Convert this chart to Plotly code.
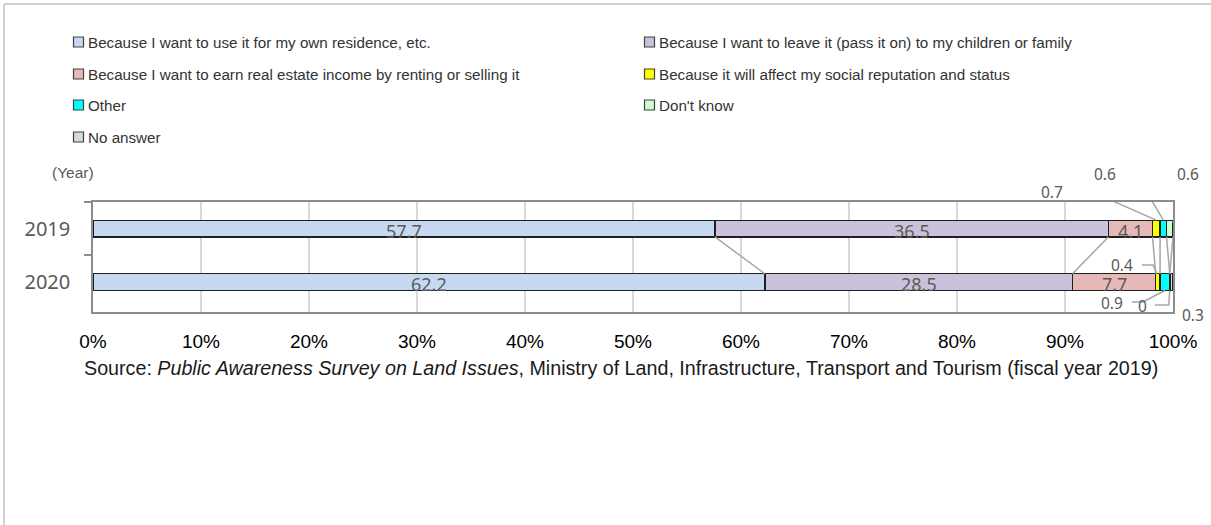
import numpy as np
import plotly.graph_objects as go

# ---- data -------------------------------------------------------------
years = ["2019", "2020"]
series_names = [
    "Because I want to use it for my own residence, etc.",
    "Because I want to leave it (pass it on) to my children or family",
    "Because I want to earn real estate income by renting or selling it",
    "Because it will affect my social reputation and status",
    "Other",
    "Don't know",
    "No answer",
]
values_2019 = [57.7, 36.5, 4.1, 0.7, 0.6, 0.6, 0.0]
values_2020 = [62.2, 28.5, 7.7, 0.4, 0.9, 0.0, 0.3]
x_tick_values = [0, 10, 20, 30, 40, 50, 60, 70, 80, 90, 100]
x_tick_labels = ["0%", "10%", "20%", "30%", "40%", "50%", "60%", "70%", "80%", "90%", "100%"]
source_text = ("Source: <i>Public Awareness Survey on Land Issues</i>, Ministry of Land, "
               "Infrastructure, Transport and Tourism (fiscal year 2019)")

# ---- styling ------------------------------------------------------------
colors = ["#c6d9f1", "#ccc1da", "#e6b9b8", "#ffff00", "#00ffff", "#ccffcc", "#d9d9d9"]
W, H = 1211, 525
L, R, T, B = 93, 1173, 202, 312          # plot area in pixels
BAR_HALF = 8.5                           # half bar thickness in pixels
LABEL_COLOR = "#595959"
LINE_COLOR = "#a6a6a6"
NUM_FONT = "Noto Sans, Open Sans, sans-serif"
TXT_FONT = "Liberation Sans, Arial, sans-serif"


def px_x(px):
    return (px - L) / (R - L)


def px_y(py):
    return (B - py) / (B - T)


rows = {"2019": np.array(values_2019), "2020": np.array(values_2020)}

fig = go.Figure()
for i, name in enumerate(series_names):
    fig.add_trace(go.Bar(
        orientation="h",
        y=years,
        x=[values_2019[i], values_2020[i]],
        name=name,
        marker=dict(color=colors[i], line=dict(color="#1f1f1f", width=1.5)),
        showlegend=False,
    ))

# normalised segment boundaries (100% stacked)
bounds = {}
for y in years:
    v = rows[y]
    cum = np.cumsum(v) / v.sum() * 100
    bounds[y] = (np.concatenate([[0], cum[:-1]]), cum)

shapes = []
annotations = []

# series lines joining the segment ends of the two bars
for i in range(len(series_names) - 1):
    shapes.append(dict(type="line", xref="x", yref="y",
                       x0=bounds["2019"][1][i], x1=bounds["2020"][1][i],
                       y0=0 + 0.155, y1=1 - 0.155,
                       line=dict(color=LINE_COLOR, width=1.5), layer="above"))

# value labels: inside for large segments, offset with leader lines for small ones
callouts = {
    ("2019", 3): ((-104, 36.5), [(-73, 37.5), (-66, 37.5), (0, BAR_HALF)]),
    ("2019", 4): ((-58, 54.5), [(-37, 54.5), (-27, 54.5), (0, BAR_HALF)]),
    ("2019", 5): ((18, 54.5), [(20, 43), (3, 6)]),
    ("2020", 3): ((-36, 17), [(-16, 17), (-5, 17), (-1, BAR_HALF)]),
    ("2020", 4): ((-53, -21), [(-33, -20), (-22, -20), (0, -BAR_HALF)]),
    ("2020", 5): ((-27, -24), [(-15, -23), (-1, -23), (0, -BAR_HALF)]),
    ("2020", 6): ((22, -33), [(22, -16), (2, -1)]),
}
for yi, y in enumerate(years):
    starts, ends = bounds[y]
    for i, v in enumerate(rows[y]):
        mid = (starts[i] + ends[i]) / 2
        key = (y, i)
        if key in callouts:
            (dx, dy), pts = callouts[key]
            annotations.append(dict(x=mid, y=yi, xref="x", yref="y", text=f"{v:g}",
                                    showarrow=False, xshift=dx, yshift=dy,
                                    font=dict(family=NUM_FONT, size=15.5, color=LABEL_COLOR)))
            path = "M " + " L ".join(f"{px},{py}" for px, py in pts)
            shapes.append(dict(type="path", xref="x", yref="y",
                               xsizemode="pixel", ysizemode="pixel",
                               xanchor=mid, yanchor=yi, path=path,
                               line=dict(color=LINE_COLOR, width=1.5), layer="above"))
        elif v >= 2:
            annotations.append(dict(x=mid, y=yi, xref="x", yref="y", text=f"{v:g}",
                                    showarrow=False, yshift=-2,
                                    font=dict(family=NUM_FONT, size=18, color=LABEL_COLOR)))

# legend drawn as two columns of swatches and labels
col_x = [78.5, 649.5]
row_y = [42, 74, 105, 137]
for i, name in enumerate(series_names):
    cx, cy = col_x[i % 2], row_y[i // 2]
    shapes.append(dict(type="rect", xref="paper", yref="paper",
                       x0=px_x(cx - 5), x1=px_x(cx + 5), y0=px_y(cy + 5), y1=px_y(cy - 5),
                       fillcolor=colors[i], line=dict(color="#404040", width=1.2)))
    annotations.append(dict(x=px_x(cx + 7), y=px_y(cy), xref="paper", yref="paper",
                            text=name, showarrow=False, xanchor="left", yanchor="middle",
                            font=dict(family=TXT_FONT, size=15.2, color="#333333")))

annotations.append(dict(x=px_x(50), y=px_y(172), xref="paper", yref="paper", text="(Year)",
                        showarrow=False, xanchor="left", yanchor="middle",
                        font=dict(family=TXT_FONT, size=15.5, color="#595959")))
annotations.append(dict(x=px_x(82), y=px_y(368), xref="paper", yref="paper", text=source_text,
                        showarrow=False, xanchor="left", yanchor="middle",
                        font=dict(family=TXT_FONT, size=19.7, color="#1a1a1a")))

# outer frame (top and left edges)
shapes.append(dict(type="line", xref="paper", yref="paper",
                   x0=px_x(4), x1=px_x(W), y0=px_y(4), y1=px_y(4),
                   line=dict(color="#d0d0d0", width=2)))
shapes.append(dict(type="line", xref="paper", yref="paper",
                   x0=px_x(4), x1=px_x(4), y0=px_y(4), y1=px_y(H),
                   line=dict(color="#d0d0d0", width=2)))

fig.update_layout(
    width=W, height=H,
    margin=dict(l=L, r=W - R, t=T, b=H - B, pad=0),
    barmode="stack", barnorm="percent", bargap=0.69,
    plot_bgcolor="white", paper_bgcolor="white",
    shapes=shapes, annotations=annotations,
    xaxis=dict(range=[0, 100], tickvals=x_tick_values, ticktext=x_tick_labels,
               showgrid=True, gridcolor="#d9d9d9", gridwidth=2,
               showline=True, linecolor="#8c8c8c", linewidth=1.5, mirror=True,
               zeroline=False, ticks="", ticklabelstandoff=11,
               tickfont=dict(family="Liberation Sans, Arial, sans-serif", size=19, color="#000000")),
    yaxis=dict(autorange="reversed", type="category",
               showline=True, linecolor="#8c8c8c", linewidth=1.5, mirror=True,
               ticks="outside", ticklen=7, tickcolor="#8c8c8c", tickwidth=1.5,
               tickson="boundaries", showgrid=False, ticklabelstandoff=17,
               tickfont=dict(family=NUM_FONT, size=20, color="#595959")),
)

fig.write_html("out.html")
